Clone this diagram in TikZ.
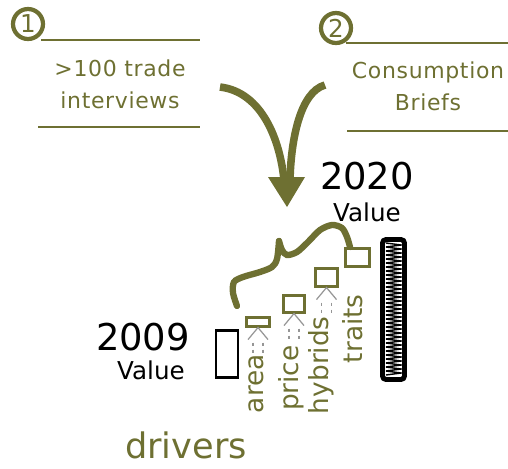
\documentclass[tikz,border=0pt]{standalone}
\usepackage{fontspec}
\setmainfont{DejaVu Sans}
\usetikzlibrary{positioning}
\definecolor{olivedrab}{RGB}{110,112,50}
\definecolor{hintgray}{RGB}{150,150,150}
\tikzset{
  stepnum/.style = {circle, draw=olivedrab, line width=2.4pt, text=olivedrab,
    minimum size=0.6cm, inner sep=0pt, font=\fontsize{14}{16}\selectfont},
  rule/.style = {draw=olivedrab, line width=0.8pt},
  sourcetext/.style = {text=olivedrab, align=center,
    font=\fontsize{12.5}{18}\selectfont\addfontfeature{LetterSpace=3}},
  valuetext/.style = {text=black, font=\fontsize{21}{24}\selectfont, inner sep=1pt},
  valuesub/.style = {text=black, font=\fontsize{14}{16}\selectfont, inner sep=1pt},
  driverbox/.style = {draw=olivedrab, line width=1.2pt, inner sep=0pt},
  driverlabel/.style = {text=olivedrab, rotate=90, anchor=east, inner sep=0pt,
    font=\fontsize{15}{17}\selectfont},
  flow/.style = {draw=olivedrab, line width=4.3pt},
  pointer/.pic = {
    % Caret under a driver box
    \draw[hintgray, line width=0.7pt] (-10,12) -- (0,0) -- (10,12);
    % Two short dashes under the caret
    \draw[hintgray, line width=0.7pt, dash pattern=on 2pt off 2pt] (-5,15) -- (-5,25);
    \draw[hintgray, line width=0.7pt, dash pattern=on 2pt off 2pt] (5,15) -- (5,25);
             }
         }

\begin{document}
\begin{tikzpicture}[x=0.02cm, y=-0.02cm]
    \useasboundingbox (0,0) rectangle (508,468);
    % Source 1
    \node[stepnum] (one) at (28,24) {1};
    \draw[rule] (41,40) -- (200,40);
    \node[sourcetext] (trade) at (120,84) {>100 trade\\interviews};
    \draw[rule] (38,127) -- (200,127);
    % Source 2
    \node[stepnum] (two) at (336,28) {2};
    \draw[rule] (346,43) -- (508,43);
    \node[sourcetext] (briefs) at (428,86) {Consumption\\Briefs};
    \draw[rule] (347,131) -- (508,131);
    % Both sources flow down into one arrow
    \coordinate (tip) at (287,207);
    \draw[flow] (220,87) .. controls (262,92) and (280,140) .. (284,180);
    \draw[flow] (325,85) .. controls (300,92) and (291,140) .. (290,180);
    \fill[olivedrab] (268,177) -- (305,177) -- (tip) -- cycle;
    % Value labels
    \node[valuetext] (v2020) at (367,176) {2020};
    \node[valuesub, below=5pt of v2020] (v2020sub) {Value};
    \node[valuetext] (v2009) at (143,337) {2009};
    \node[valuesub, below=3pt of v2009, xshift=0.16cm] (v2009sub) {Value};
    % Value bars
    \node[draw, line width=1.3pt, minimum width=0.44cm, minimum height=0.94cm] (bar2009) at (227,354) {};
    \node[draw, line width=2.8pt, rounded corners=2pt, minimum width=0.44cm, minimum height=2.8cm] (bar2020) at (393.5,309.5) {};
    % Spring hatch inside the 2020 bar
    \foreach \k in {0,...,32}
    \draw[line width=0.8pt] (386,243+4*\k) -- (401,245+4*\k) -- (386,247+4*\k);
    % Driver boxes
    \node[driverbox, minimum width=0.46cm, minimum height=0.18cm] (area) at (258,322) {};
    \node[driverbox, minimum width=0.42cm, minimum height=0.34cm] (price) at (294,304) {};
    \node[driverbox, minimum width=0.44cm, minimum height=0.36cm] (hybrids) at (326.5,277.5) {};
    \node[driverbox, minimum width=0.48cm, minimum height=0.36cm] (traits) at (357.5,257.5) {};
    % Carets under three of the boxes
    \foreach \drv in {area,price,hybrids}
    \pic at (\drv.south) {pointer};
    % Driver names
    \foreach \drv/\xpos/\ypos in {area/256/354, price/291/345, hybrids/321/316, traits/353/294}
    \node[driverlabel] (\drv-label) at (\xpos,\ypos) {\drv};
    % Brace over the drivers
    \draw[olivedrab, line width=3.6pt, line cap=round] plot[smooth] coordinates
      {(237,306) (233,293) (234,282) (243,277) (260,272) (272,267) (277,259) (279,241)};
    \draw[olivedrab, line width=3.6pt, line cap=round] plot[smooth] coordinates
      {(279,241) (282,250) (287,255) (297,252) (308,242) (320,230) (332,225) (342,228) (347,237) (350,247)};
    % Caption
    \node[text=olivedrab, font=\fontsize{20}{24}\selectfont] (drivers) at (186,445) {drivers};
\end{tikzpicture}
\end{document}
